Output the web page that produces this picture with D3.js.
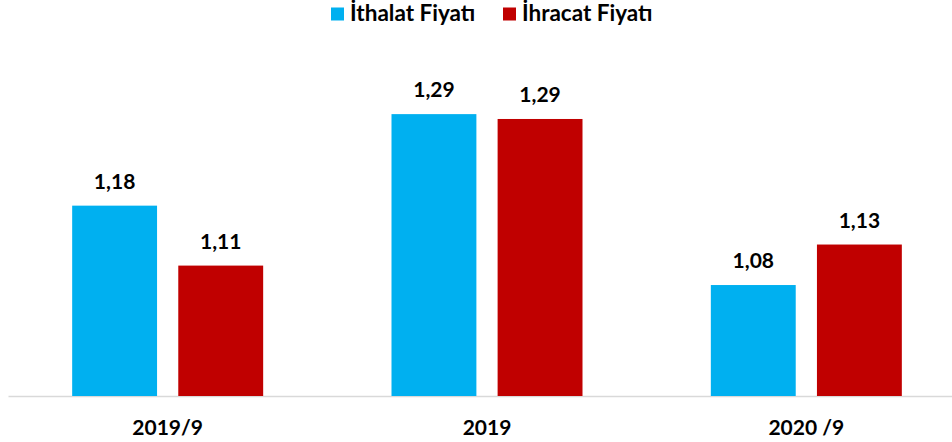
<!DOCTYPE html>
<html>
<head>
<meta charset="utf-8">
<script src="https://cdn.jsdelivr.net/npm/d3@7"></script>
<style>
  body { margin: 0; background: #fff; }
  svg { display: block; font-family: Lato, "Open Sans", sans-serif; }
</style>
</head>
<body>
<svg id="chart"></svg>
<script>
let categories = ["2019/9", "2019", "2020 /9"];
let series = ["İthalat Fiyatı", "İhracat Fiyatı"];
let ithalat = [1.180, 1.293, 1.082];
let ihracat = [1.106, 1.287, 1.132];
let colors = ["#00B0F0", "#C00000"];

let width = 952;
let height = 442;
let baseY = 396;

let svg = d3.select("#chart").attr("width", width).attr("height", height);

let rows = categories.map(function (c, i) {
  return { cat: c, values: [ithalat[i], ihracat[i]] };
});

let x0 = d3.scaleBand().domain(categories).range([8, 966]);
let x1 = d3.scaleBand().domain(series).range([0, 191]).paddingInner(0.2);
let y = d3.scaleLinear().domain([0.945, 1.29]).range([baseY, baseY - 0.345 * 810]);

// axis
let axis = svg.append("g")
  .attr("transform", "translate(0," + baseY + ")")
  .call(d3.axisBottom(x0).tickSize(0).tickPadding(0));
axis.select(".domain").attr("stroke", "#d9d9d9").attr("stroke-width", 1.5);
axis.selectAll("text")
  .attr("y", 39)
  .attr("dy", 0)
  .attr("fill", "#000")
  .style("font-size", "21px")
  .style("font-weight", "bold")
  .style("font-family", "Lato, sans-serif");

let groups = svg.selectAll("g.grp")
  .data(rows)
  .enter()
  .append("g")
  .attr("class", "grp")
  .attr("transform", function (d) {
    return "translate(" + (x0(d.cat) + x0.bandwidth() / 2 - 95.5) + ",0)";
  });

let items = groups.selectAll("g.bar")
  .data(function (d) {
    return d.values.map(function (v, i) { return { s: series[i], v: v, i: i }; });
  })
  .enter()
  .append("g")
  .attr("class", "bar");

items.append("rect")
  .attr("x", function (d) { return x1(d.s); })
  .attr("y", function (d) { return y(d.v); })
  .attr("width", x1.bandwidth())
  .attr("height", function (d) { return baseY - y(d.v); })
  .attr("fill", function (d) { return colors[d.i]; });

items.append("text")
  .attr("x", function (d) { return x1(d.s) + x1.bandwidth() / 2; })
  .attr("y", function (d) { return y(d.v) - 17; })
  .attr("text-anchor", "middle")
  .style("font-size", "21px")
  .style("font-weight", "bold")
  .text(function (d) { return d.v.toFixed(2).replace(".", ","); });

// legend
let legendX = [331, 503];
let legend = svg.selectAll("g.leg")
  .data(series)
  .enter()
  .append("g")
  .attr("class", "leg")
  .attr("transform", function (d, i) { return "translate(" + legendX[i] + ",0)"; });

legend.append("rect")
  .attr("x", 0).attr("y", 7.5)
  .attr("width", 13).attr("height", 13)
  .attr("fill", function (d, i) { return colors[i]; });

legend.append("text")
  .attr("x", 19)
  .attr("y", 21)
  .style("font-size", "22.5px")
  .style("font-weight", "bold")
  .text(function (d) { return d; });
</script>
</body>
</html>
